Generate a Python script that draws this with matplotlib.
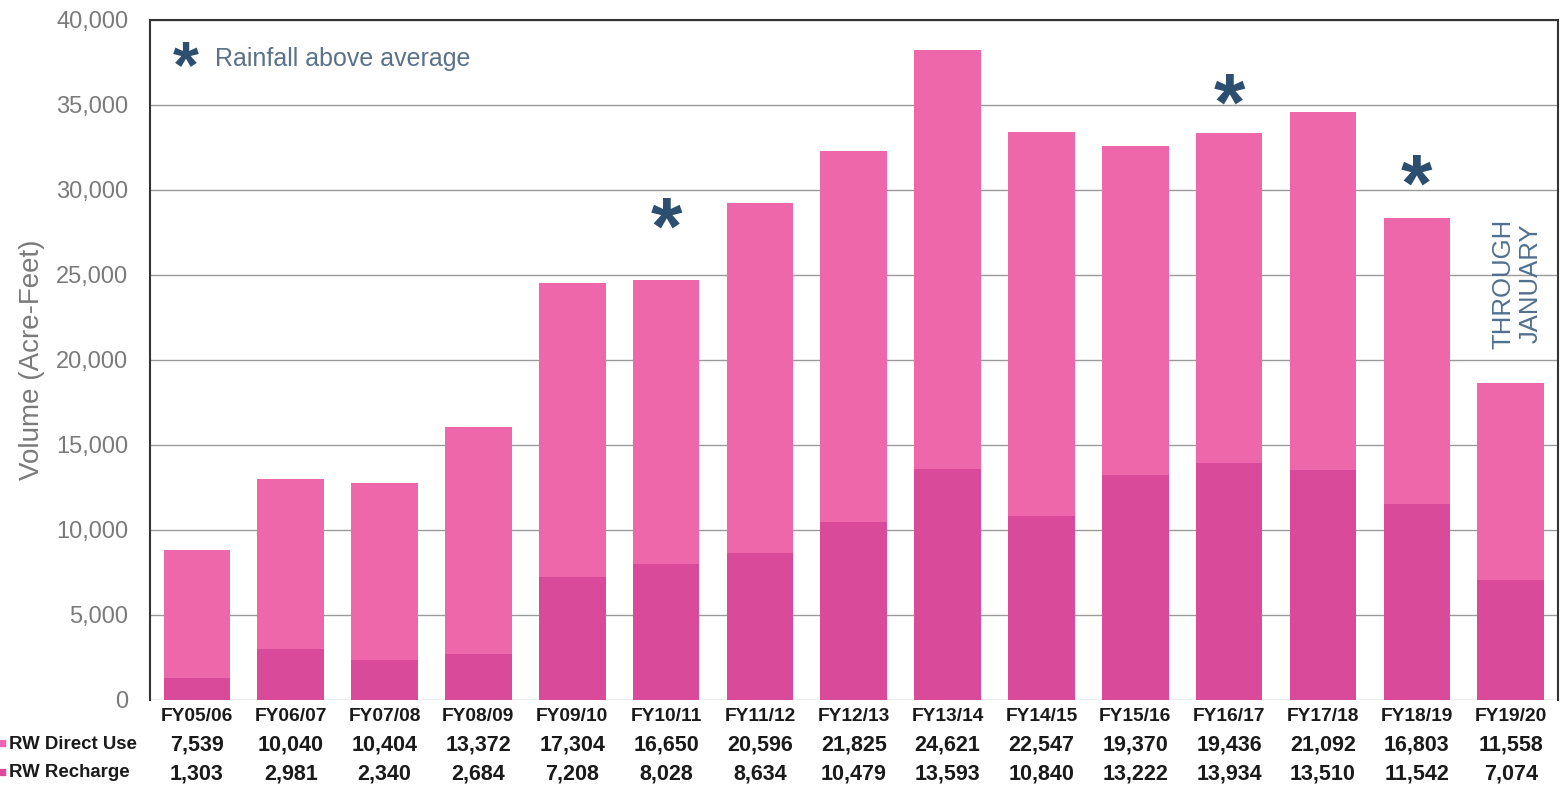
import numpy as np
import matplotlib
matplotlib.use("Agg")
import matplotlib.pyplot as plt
from matplotlib.transforms import blended_transform_factory

plt.rcParams["font.family"] = ["Liberation Sans", "DejaVu Sans"]

# dados
years = ["FY05/06", "FY06/07", "FY07/08", "FY08/09", "FY09/10", "FY10/11", "FY11/12",
         "FY12/13", "FY13/14", "FY14/15", "FY15/16", "FY16/17", "FY17/18", "FY18/19", "FY19/20"]
direct_use = [7539, 10040, 10404, 13372, 17304, 16650, 20596, 21825, 24621, 22547,
              19370, 19436, 21092, 16803, 11558]
recharge = [1303, 2981, 2340, 2684, 7208, 8028, 8634, 10479, 13593, 10840,
            13222, 13934, 13510, 11542, 7074]
rain_years = ["FY10/11", "FY16/17", "FY18/19"]
rain_marks = [28400, 35700, 30900]

c_direct = "#ee67aa"
c_recharge = "#d94a9a"
c_star = "#2d4f6f"
c_grey = "#7a7a7a"

fig = plt.figure(figsize=(15.64, 7.93), dpi=100)
ax = fig.add_axes([0.0959, 0.1173, 0.900, 0.8575])

x = np.arange(len(years))
ax.bar(x, recharge, width=0.71, color=c_recharge, zorder=2)
ax.bar(x, direct_use, width=0.71, bottom=recharge, color=c_direct, zorder=2)

ax.set_xlim(-0.5, len(years) - 0.5)
ax.set_ylim(0, 40000)
ax.set_yticks(np.arange(0, 40001, 5000))
ax.set_yticklabels([f"{v:,}" for v in range(0, 40001, 5000)], fontsize=17, color=c_grey)
ax.tick_params(axis="y", length=0, pad=15.5)
ax.set_xticks([])
ax.yaxis.grid(True, color="#9a9a9a", lw=1.0, zorder=0)
ax.set_ylabel("Volume (Acre-Feet)", fontsize=20, color=c_grey, labelpad=8)
for s in ["left", "top", "right"]:
    ax.spines[s].set_color("#333333")
    ax.spines[s].set_linewidth(1.5)
ax.spines["bottom"].set_visible(False)

# tabela de dados embaixo
tr = blended_transform_factory(ax.transData, ax.transAxes)
for i, yr in enumerate(years):
    ax.text(i, -0.025, yr, transform=tr, ha="center", va="center", fontsize=13.8,
            fontweight="bold", color="#1a1a1a")
    ax.text(i, -0.066, f"{direct_use[i]:,}", transform=tr, ha="center", va="center",
            fontsize=15.5, fontweight="bold", color="#1a1a1a")
    ax.text(i, -0.109, f"{recharge[i]:,}", transform=tr, ha="center", va="center",
            fontsize=15.5, fontweight="bold", color="#1a1a1a")

fig.text(-0.002, 0.0615, "\u25a0", color=c_direct, fontsize=11, va="center")
fig.text(0.006, 0.0615, "RW Direct Use", color="#1a1a1a", fontsize=13.4,
         fontweight="bold", va="center")
fig.text(-0.002, 0.0255, "\u25a0", color=c_recharge, fontsize=11, va="center")
fig.text(0.006, 0.0255, "RW Recharge", color="#1a1a1a", fontsize=13.4,
         fontweight="bold", va="center")

# asteriscos de chuva
for yr, yv in zip(rain_years, rain_marks):
    ax.text(years.index(yr), yv - 900, "*", ha="center", va="center", fontsize=58,
            fontweight="bold", color=c_star, zorder=3)

ax.text(0.016, 0.927, "*", transform=ax.transAxes, ha="left", va="center", fontsize=48,
        fontweight="bold", color=c_star)
ax.text(0.046, 0.942, "Rainfall above average", transform=ax.transAxes, ha="left",
        va="center", fontsize=18, color="#5b7189")

ax.text(14.07, 24500, "THROUGH\nJANUARY", rotation=90, ha="center", va="center",
        fontsize=18.5, color="#50708e", linespacing=1.2, zorder=3)

plt.savefig("out.png", dpi=100)
plt.close()
